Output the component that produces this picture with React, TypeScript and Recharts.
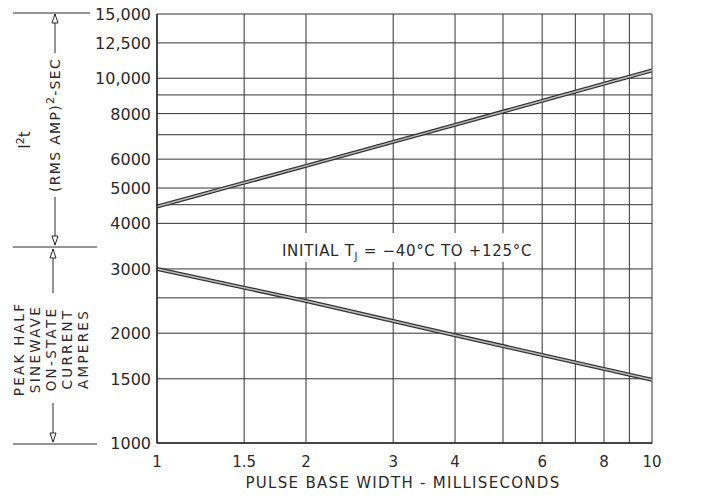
import { LineChart, Line, XAxis, YAxis, CartesianGrid } from 'recharts';

// pulse base width (ms) and readings
const pulseWidths = [1, 2, 4, 10];
const i2tValues = [4450, 5750, 7450, 10500];
const peakCurrent = [3000, 2450, 1975, 1490];

const xTicks = [1, 1.5, 2, 3, 4, 5, 6, 7, 8, 9, 10];
const xLabels = ['1', '1.5', '2', '3', '4', '', '6', '', '8', '', '10'];
const yTicks = [1000, 1500, 2000, 2500, 3000, 4000, 4500, 5000, 6000, 7000, 8000, 9000, 10000, 12500, 15000];
const yLabels = ['1000', '1500', '2000', '', '3000', '4000', '', '5000', '6000', '', '8000', '', '10,000', '12,500', '15,000'];

const data = pulseWidths.map((w, i) => ({ w, i2t: i2tValues[i], peak: peakCurrent[i] }));

const FONT = '"DejaVu Sans", sans-serif';
const INK = '#2a2a2a';

const XTick = (props: any) => {
  const { x, y, payload } = props;
  const label = xLabels[xTicks.indexOf(payload.value)] ?? '';
  return (
    <text x={x} y={y + 16} textAnchor="middle" fontSize={15} fontFamily={FONT} fill={INK}>
      {label}
    </text>
  );
};

const YTick = (props: any) => {
  const { x, y, payload } = props;
  const label = yLabels[yTicks.indexOf(payload.value)] ?? '';
  return (
    <text x={x} y={y} dy={6} textAnchor="end" fontSize={16} fontFamily={FONT} fill={INK}>
      {label}
    </text>
  );
};

const arrowUp = (x: number, y: number) => `M${x},${y} L${x - 3},${y + 9} L${x + 3},${y + 9} Z`;
const arrowDown = (x: number, y: number) => `M${x},${y} L${x - 3},${y - 9} L${x + 3},${y - 9} Z`;

export default function App() {
  return (
    <div style={{ position: 'absolute', left: 0, top: 0, width: 703, height: 496, background: '#fff' }}>
      <LineChart width={703} height={496} data={data} margin={{ top: 14, right: 51, bottom: 0, left: 0 }}>
        <CartesianGrid stroke="#333" strokeWidth={1} />
        <XAxis
          dataKey="w"
          type="number"
          scale="log"
          domain={[1, 10]}
          ticks={xTicks}
          interval={0}
          allowDataOverflow
          height={53}
          tickLine={false}
          axisLine={{ stroke: INK, strokeWidth: 1.5 }}
          tick={<XTick />}
        />
        <YAxis
          type="number"
          scale="log"
          domain={[1000, 15000]}
          ticks={yTicks}
          interval={0}
          allowDataOverflow
          width={157}
          tickSize={4}
          tickLine={false}
          axisLine={{ stroke: INK, strokeWidth: 1.5 }}
          tick={<YTick />}
        />
        <Line dataKey="i2t" stroke="#333" strokeWidth={4} dot={false} isAnimationActive={false} />
        <Line dataKey="i2t" stroke="#bdbdbd" strokeWidth={1.5} dot={false} isAnimationActive={false} />
        <Line dataKey="peak" stroke="#333" strokeWidth={4} dot={false} isAnimationActive={false} />
        <Line dataKey="peak" stroke="#bdbdbd" strokeWidth={1.5} dot={false} isAnimationActive={false} />
      </LineChart>

      <svg
        width={703}
        height={496}
        style={{ position: 'absolute', left: 0, top: 0, pointerEvents: 'none' }}
        fontFamily={FONT}
        fill={INK}
      >
        {/* annotation inside the plot */}
        <rect x={280} y={233} width={257} height={29} fill="#fff" />
        <text x={282} y={256} fontSize={15} letterSpacing={0.7}>
          INITIAL T<tspan fontSize={10} dy={4}>J</tspan>
          <tspan dy={-4}> = −40°C TO +125°C</tspan>
        </text>

        {/* upper section: I²t */}
        <line x1={13} y1={13} x2={90} y2={13} stroke={INK} />
        <line x1={55} y1={14} x2={55} y2={53} stroke={INK} />
        <path d={arrowUp(55, 14)} fill="#fff" stroke={INK} />
        <text transform="translate(60,125) rotate(-90)" textAnchor="middle" fontSize={14} letterSpacing={1.3}>
          (RMS AMP)<tspan dy={-6} fontSize={11}>2</tspan>
          <tspan dy={6}>-SEC</tspan>
        </text>
        <line x1={55} y1={197} x2={55} y2={245} stroke={INK} />
        <path d={arrowDown(55, 245)} fill="#fff" stroke={INK} />
        <text transform="translate(30,140) rotate(-90)" textAnchor="middle" fontSize={15}>
          I<tspan dy={-6} fontSize={11}>2</tspan>
          <tspan dy={6}>t</tspan>
        </text>
        <line x1={13} y1={247} x2={97} y2={247} stroke={INK} />

        {/* lower section: peak current */}
        <line x1={53} y1={249} x2={53} y2={293} stroke={INK} />
        <path d={arrowUp(53, 249)} fill="#fff" stroke={INK} />
        {['PEAK HALF', 'SINEWAVE', 'ON-STATE', 'CURRENT', 'AMPERES'].map((t, i) => (
          <text
            key={t}
            transform={`translate(${24 + i * 16},349) rotate(-90)`}
            textAnchor="middle"
            fontSize={13.5}
            letterSpacing={2.3}
          >
            {t}
          </text>
        ))}
        <line x1={53} y1={403} x2={53} y2={442} stroke={INK} />
        <path d={arrowDown(53, 442)} fill="#fff" stroke={INK} />
        <line x1={13} y1={444} x2={97} y2={444} stroke={INK} />

        {/* x axis title */}
        <text x={403} y={488} textAnchor="middle" fontSize={15} letterSpacing={1.3}>
          PULSE BASE WIDTH - MILLISECONDS
        </text>
      </svg>
    </div>
  );
}
